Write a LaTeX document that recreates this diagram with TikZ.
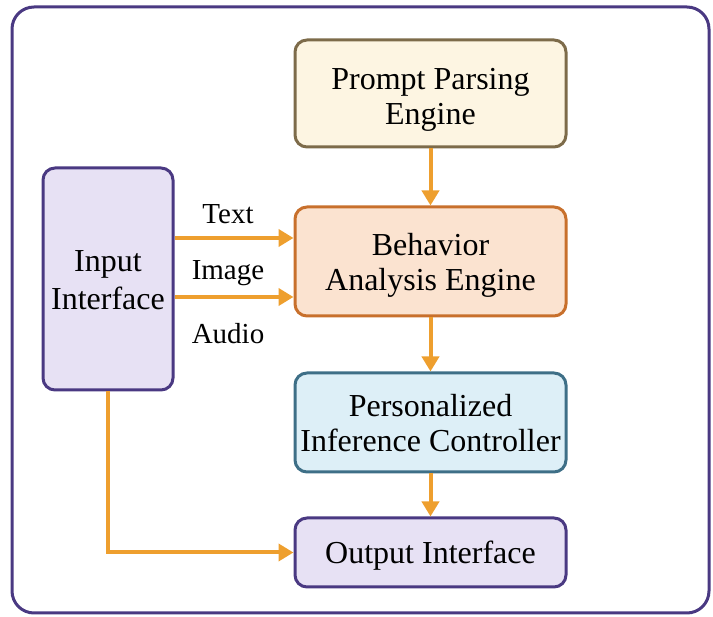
\documentclass[tikz,border=0pt]{standalone}
\usepackage{fontspec}
\setmainfont{Liberation Serif}
\usetikzlibrary{arrows.meta,calc}
\definecolor{promptfill}{HTML}{FDF5E2}
\definecolor{promptline}{HTML}{7D6B4A}
\definecolor{behfill}{HTML}{FBE3D0}
\definecolor{behline}{HTML}{C8702C}
\definecolor{persfill}{HTML}{DDEFF7}
\definecolor{persline}{HTML}{3E6F87}
\definecolor{iofill}{HTML}{E7E1F4}
\definecolor{ioline}{HTML}{4A3982}
\definecolor{arrowc}{HTML}{EE9F2E}
\tikzset{
  boxnode/.style={rounded corners=12pt, line width=3pt, inner sep=0pt},
  boxtext/.style={inner sep=0pt, align=center, font=\fontsize{32}{35}\selectfont},
  flow/.style={draw=arrowc, line width=4pt, -{Triangle[length=15pt,width=17pt]}},
  lbl/.style={font=\fontsize{29}{32}\selectfont, inner sep=0pt},
}
\begin{document}
\begin{tikzpicture}[x=1pt,y=-1pt]
\useasboundingbox (0,0) rectangle (713,617);
\draw[ioline, line width=3pt, rounded corners=22pt] (12,7) rectangle (709,613);

\node[boxnode, draw=promptline, fill=promptfill, minimum width=271pt, minimum height=107pt] (prompt) at (430.5,93.5) {};
\node[boxtext] (prompttext) at ($(prompt.center)+(0,6)$) {Prompt Parsing\\Engine};
\node[boxnode, draw=behline, fill=behfill, minimum width=271pt, minimum height=109pt] (beh) at (430.5,261.5) {};
\node[boxtext] (behtext) at ($(beh.center)+(0,4)$) {Behavior\\Analysis Engine};
\node[boxnode, draw=persline, fill=persfill, minimum width=271pt, minimum height=99pt] (pers) at (430.5,422.5) {};
\node[boxtext] (perstext) at ($(pers.center)+(0,1)$) {Personalized\\Inference Controller};
\node[boxnode, draw=ioline, fill=iofill, minimum width=271pt, minimum height=69pt] (out) at (430.5,552.5) {};
\node[boxtext] (outtext) at ($(out.center)+(0,3)$) {Output Interface};
\node[boxnode, draw=ioline, fill=iofill, minimum width=130pt, minimum height=222pt] (in) at (108,279) {};
\node[boxtext, font=\fontsize{32}{38}\selectfont] (intext) at ($(in.center)+(0,1)$) {Input\\Interface};

\node[lbl] (ltext) at (228,214) {Text};
\node[lbl] (limage) at (228,273) {Image};
\node[lbl] (laudio) at (228,334) {Audio};

\draw[flow] (prompt.south) -- (beh.north);
\draw[flow] (beh.south) -- (pers.north);
\draw[flow] (pers.south) -- (out.north);
\draw[flow] (in.east |- 0,238) -- (beh.west |- 0,238);
\draw[flow] (in.east |- 0,297) -- (beh.west |- 0,297);
\draw[flow] (in.south) |- (out.west);
\end{tikzpicture}
\end{document}
